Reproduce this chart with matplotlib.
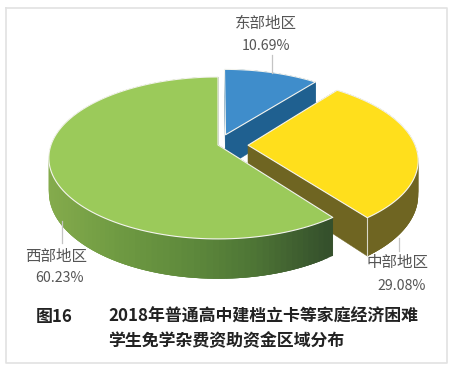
# coding:utf-8
import numpy as np
import matplotlib.pyplot as plt
from matplotlib.colors import LinearSegmentedColormap

plt.rcParams['font.family'] = ['Noto Sans CJK SC', 'DejaVu Sans']

# 数据
regions = ['东部地区', '中部地区', '西部地区']
shares = [10.69, 29.08, 60.23]
share_labels = ['10.69%', '29.08%', '60.23%']
explode = [0.14, 0.18, 0.0]

top_colors = ['#3f8dcb', '#ffdf1c', '#9bca5a']
wall_colors = ['#1f6090', '#6f6522', '#35502c']
caption_no = '图16'
caption_lines = ['2018年普通高中建档立卡等家庭经济困难', '学生免学杂费资助资金区域分布']

# 透视投影参数（单位：像素）
cx, cy = 218, 145
ax_a, ax_b, persp = 167, 78.9, 0.16
depth = 33.5

green_wall = LinearSegmentedColormap.from_list(
    'g', ['#84ab4c', '#6f9a42', '#5f8a3c', '#4d7435', '#35502c'])


def project(u, v, drop=0.0):
    # 圆盘坐标 -> 屏幕坐标
    w = 1 + persp * v
    return cx + ax_a * u / w, cy - ax_b * v / w + drop * depth / w


fig = plt.figure(figsize=(4.54, 3.71), dpi=100)
ax = fig.add_axes([0, 0, 1, 1])
ax.set_xlim(0, 454)
ax.set_ylim(371, 0)
ax.axis('off')

# 外框
ax.plot([6, 447, 447, 6, 6], [8, 8, 363, 363, 8], color='#e2e2e2', lw=1.2)

edges = np.cumsum([0] + shares) / sum(shares) * 2 * np.pi
for i in range(3):
    t = np.linspace(edges[i], edges[i + 1], 120)
    mid = (edges[i] + edges[i + 1]) / 2
    ou, ov = explode[i] * np.sin(mid), explode[i] * np.cos(mid)
    u = ou + np.sin(t)
    v = ov + np.cos(t)

    # 切面
    for eu, ev in [(u[0], v[0]), (u[-1], v[-1])]:
        p = [project(ou, ov), project(eu, ev), project(eu, ev, 1), project(ou, ov, 1)]
        ax.fill(*zip(*p), color=wall_colors[i], lw=0.3)

    # 外侧面，相邻小块互相压住，避免出现条纹
    x0, y0 = project(u, v)
    x1, y1 = project(u, v, 1)
    for k in range(len(t) - 1):
        if i == 2:
            c = green_wall(np.clip((x0[k] - 50) / 280, 0, 1))
        else:
            c = wall_colors[i]
        e = min(k + 3, len(t) - 1)
        ax.fill([x0[k], x0[e], x1[e], x1[k]], [y0[k], y0[e], y1[e], y1[k]],
                color=c, lw=0)

    # 顶面
    ax0, ay0 = project(ou, ov)
    ax.fill(np.r_[ax0, x0], np.r_[ay0, y0], facecolor=top_colors[i],
            edgecolor='#f4f4ee', lw=0.8, joinstyle='round')

    # 切面与外侧面交界的白线
    if i == 1:
        ax.plot([x0[-1], x1[-1]], [y0[-1], y1[-1]], color='#d8d8c8', lw=0.8)

# 标签
label_x = [266, 398, 56.5]
label_y = [23, 263, 256]
value_x = [266, 402, 60]
value_y = [46, 286, 278]
for i in range(3):
    ax.text(label_x[i], label_y[i], regions[i], color='#555555', fontsize=11.2,
            ha='center', va='center', fontweight='light')
    ax.text(value_x[i], value_y[i], share_labels[i], color='#555555', fontsize=10.2,
            ha='center', va='center', fontweight='light')

# 引导线
ax.plot([272, 272], [55, 73], color='#c4c4c4', lw=0.9)
ax.plot([399, 399], [238, 251], color='#c4c4c4', lw=0.9)
ax.plot([62, 62], [221, 243], color='#c4c4c4', lw=0.9)

# 图注
ax.text(36, 317, caption_no, color='#222222', fontsize=12.2, fontweight='bold', va='center')
ax.text(108, 317, caption_lines[0], color='#222222', fontsize=12.2, fontweight='bold', va='center')
ax.text(108, 341, caption_lines[1], color='#222222', fontsize=12.2, fontweight='bold', va='center')

fig.savefig('out.png', dpi=100, facecolor='white')
